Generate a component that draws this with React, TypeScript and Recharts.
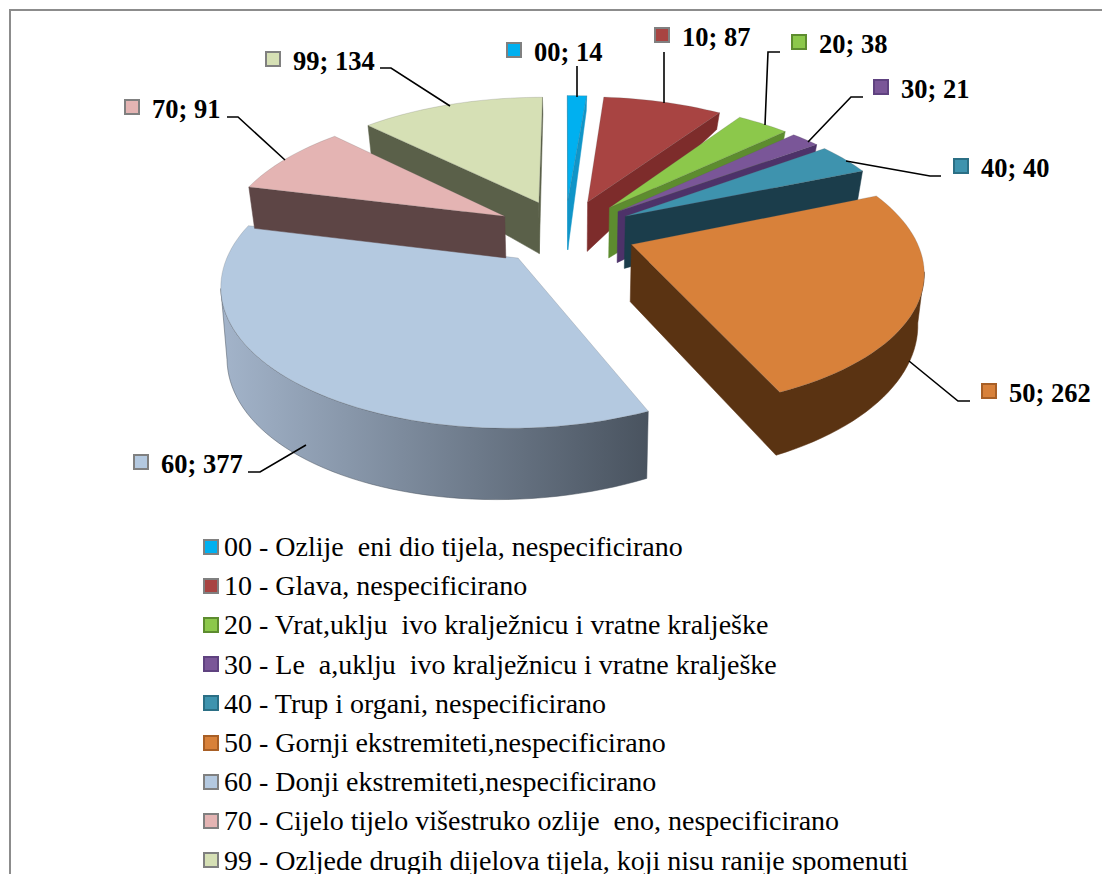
import React from 'react';
import { PieChart, Pie, Legend } from 'recharts';

const codes = ['00', '10', '20', '30', '40', '50', '60', '70', '99'];
const counts = [14, 87, 38, 21, 40, 262, 377, 91, 134];
const descriptions = [
  '00 - Ozlije  eni dio tijela, nespecificirano',
  '10 - Glava, nespecificirano',
  '20 - Vrat,uklju  ivo kralježnicu i vratne kralješke',
  '30 - Le  a,uklju  ivo kralježnicu i vratne kralješke',
  '40 - Trup i organi, nespecificirano',
  '50 - Gornji ekstremiteti,nespecificirano',
  '60 - Donji ekstremiteti,nespecificirano',
  '70 - Cijelo tijelo višestruko ozlije  eno, nespecificirano',
  '99 - Ozljede drugih dijelova tijela, koji nisu ranije spomenuti',
];

const topColors = ['#00b0f0', '#a84442', '#8cc84b', '#7a5698', '#3e93ae', '#d8813a', '#b4c9e0', '#e4b4b3', '#d6e0b5'];
const wallFrom = ['#1095c8', '#7d2c2b', '#5d8c2f', '#4d3269', '#1b3d4b', '#5a3312', '#a3b4ca', '#5d4545', '#5a6049'];
const wallTo = ['#1095c8', '#7d2c2b', '#5d8c2f', '#4d3269', '#1b3d4b', '#5a3312', '#49535f', '#5d4545', '#5a6049'];
const swatchBorders = ['#808080', '#808080', '#5d8c2f', '#5f4280', '#2b6f85', '#a85f26', '#808080', '#808080', '#808080'];
// the 70 slice has a visibly thinner wall than the others
const wallScale = [1, 1, 1, 1, 1, 1, 1, 0.75, 1];

// label box x/y, then the leader line
const labelSpots: { x: number; y: number; line: number[][] }[] = [
  { x: 507, y: 43, line: [[577, 66], [577, 97]] },
  { x: 655, y: 28, line: [[664, 52], [664, 103]] },
  { x: 792, y: 35, line: [[780, 52], [768, 52], [765, 125]] },
  { x: 874, y: 80, line: [[863, 97], [851, 97], [808, 142]] },
  { x: 954, y: 159, line: [[941, 176], [930, 176], [846, 161]] },
  { x: 982, y: 384, line: [[970, 401], [958, 401], [909, 361]] },
  { x: 134, y: 455, line: [[248, 472], [260, 472], [306, 445]] },
  { x: 125, y: 100, line: [[227, 117], [238, 117], [285, 160]] },
  { x: 266, y: 52, line: [[380, 68], [391, 68], [450, 106]] },
];

const paintOrder = [8, 0, 1, 2, 3, 4, 5, 6, 7];
const tableData = paintOrder.map((i) => ({ name: codes[i], value: counts[i], slot: i }));
const total = counts.reduce((a, b) => a + b, 0);
const pieStart = 90 + (360 * counts[8]) / total;

const CX = 565;
const CY = 232;
const RIM = 282;
const TILT = 0.468;
const PERSP = 0.167;
const EXPLODE = 0.25;

const rad = (d: number) => (d * Math.PI) / 180;

const Slice3D = (props: any) => {
  const { cx, cy, outerRadius, startAngle, endAngle, slot } = props;
  const a1 = 90 - startAngle;
  const a2 = 90 - endAngle;
  const mid = (a1 + a2) / 2;
  const ex = EXPLODE * Math.sin(rad(mid));
  const ey = EXPLODE * Math.cos(rad(mid));

  const project = (u0: number, v0: number) => {
    const u = u0 + ex;
    const v = v0 + ey;
    const w = 1 + PERSP * v;
    const x = cx + (outerRadius * u) / w;
    const y = cy - (outerRadius * TILT * v) / w;
    const h = (58 - 8 * u - (v > 0 ? 34 * v : 10 * v)) * wallScale[slot];
    return { x, y, bx: cx + (x - cx) * 0.982, by: y + h };
  };

  const pts = [project(0, 0)];
  const steps = Math.max(2, Math.ceil((a2 - a1) / 2));
  for (let i = 0; i <= steps; i++) {
    const t = rad(a1 + ((a2 - a1) * i) / steps);
    pts.push(project(Math.sin(t), Math.cos(t)));
  }
  pts.push(pts[0]);

  // runs of edges which face the viewer
  const runs: (typeof pts)[] = [];
  let cur: typeof pts = [];
  for (let i = 0; i < pts.length - 1; i++) {
    if (pts[i + 1].x < pts[i].x - 0.001) {
      if (!cur.length) cur.push(pts[i]);
      cur.push(pts[i + 1]);
    } else if (cur.length) {
      runs.push(cur);
      cur = [];
    }
  }
  if (cur.length) runs.push(cur);

  const wallPath = (run: typeof pts) =>
    'M' + run.map((p) => `${p.x} ${p.y}`).join('L') + 'L' + [...run].reverse().map((p) => `${p.bx} ${p.by}`).join('L') + 'Z';
  const gradId = `wall-${slot}`;

  return (
    <g>
      <defs>
        <linearGradient id={gradId} x1="0" y1="0" x2="1" y2="0">
          <stop offset="0" stopColor={wallFrom[slot]} />
          <stop offset="1" stopColor={wallTo[slot]} />
        </linearGradient>
      </defs>
      {runs.map((run, i) => (
        <path key={i} d={wallPath(run)} fill={`url(#${gradId})`} stroke={wallTo[slot]} strokeWidth={0.5} />
      ))}
      <path
        d={'M' + pts.map((p) => `${p.x} ${p.y}`).join('L') + 'Z'}
        fill={topColors[slot]}
        stroke="rgba(90,90,90,0.25)"
        strokeWidth={0.8}
      />
    </g>
  );
};

const SliceLabel = (props: any) => {
  const { slot, name, value } = props.payload ?? props;
  const spot = labelSpots[slot];
  return (
    <g>
      <polyline points={spot.line.map((p) => p.join(',')).join(' ')} fill="none" stroke="#000" strokeWidth={1.6} />
      <rect x={spot.x} y={spot.y} width={14} height={14} fill={topColors[slot]} stroke={swatchBorders[slot]} strokeWidth={2} />
      <text x={spot.x + 27} y={spot.y + 18} fontFamily="Liberation Serif" fontWeight="bold" fontSize={26.5} fill="#000">
        {`${name}; ${value}`}
      </text>
    </g>
  );
};

const LegendList = () => (
  <div style={{ fontFamily: 'Liberation Serif', fontSize: 28, color: '#000', lineHeight: '39.2px', whiteSpace: 'pre' }}>
    {descriptions.map((text, i) => (
      <div key={codes[i]} style={{ display: 'flex', alignItems: 'center', height: 39.2 }}>
        <span
          style={{
            width: 12,
            height: 12,
            marginRight: 5,
            background: topColors[i],
            border: `2px solid ${swatchBorders[i]}`,
            display: 'inline-block',
          }}
        />
        {text}
      </div>
    ))}
  </div>
);

export default function App() {
  return (
    <div style={{ position: 'fixed', left: 0, top: 0, width: 1102, height: 874, overflow: 'hidden', background: '#fff' }}>
      <div
        style={{
          position: 'absolute',
          left: 9,
          top: 9,
          width: 1100,
          height: 880,
          borderTop: '2px solid #8c8c8c',
          borderLeft: '2px solid #8c8c8c',
          boxSizing: 'border-box',
        }}
      />
      <PieChart width={1102} height={874} margin={{ top: 0, right: 0, bottom: 0, left: 0 }} style={{ position: 'absolute', left: 0, top: 0 }}>
        <Pie
          data={tableData}
          dataKey="value"
          nameKey="name"
          cx={CX}
          cy={CY}
          innerRadius={0}
          outerRadius={RIM}
          startAngle={pieStart}
          endAngle={pieStart - 360}
          paddingAngle={0}
          stroke="none"
          isAnimationActive={false}
          shape={Slice3D}
          label={SliceLabel}
          labelLine={false}
        />
        <Legend
          content={<LegendList />}
          layout="vertical"
          wrapperStyle={{ position: 'absolute', left: 203, top: 527, width: 860, bottom: 'auto' }}
        />
      </PieChart>
    </div>
  );
}
